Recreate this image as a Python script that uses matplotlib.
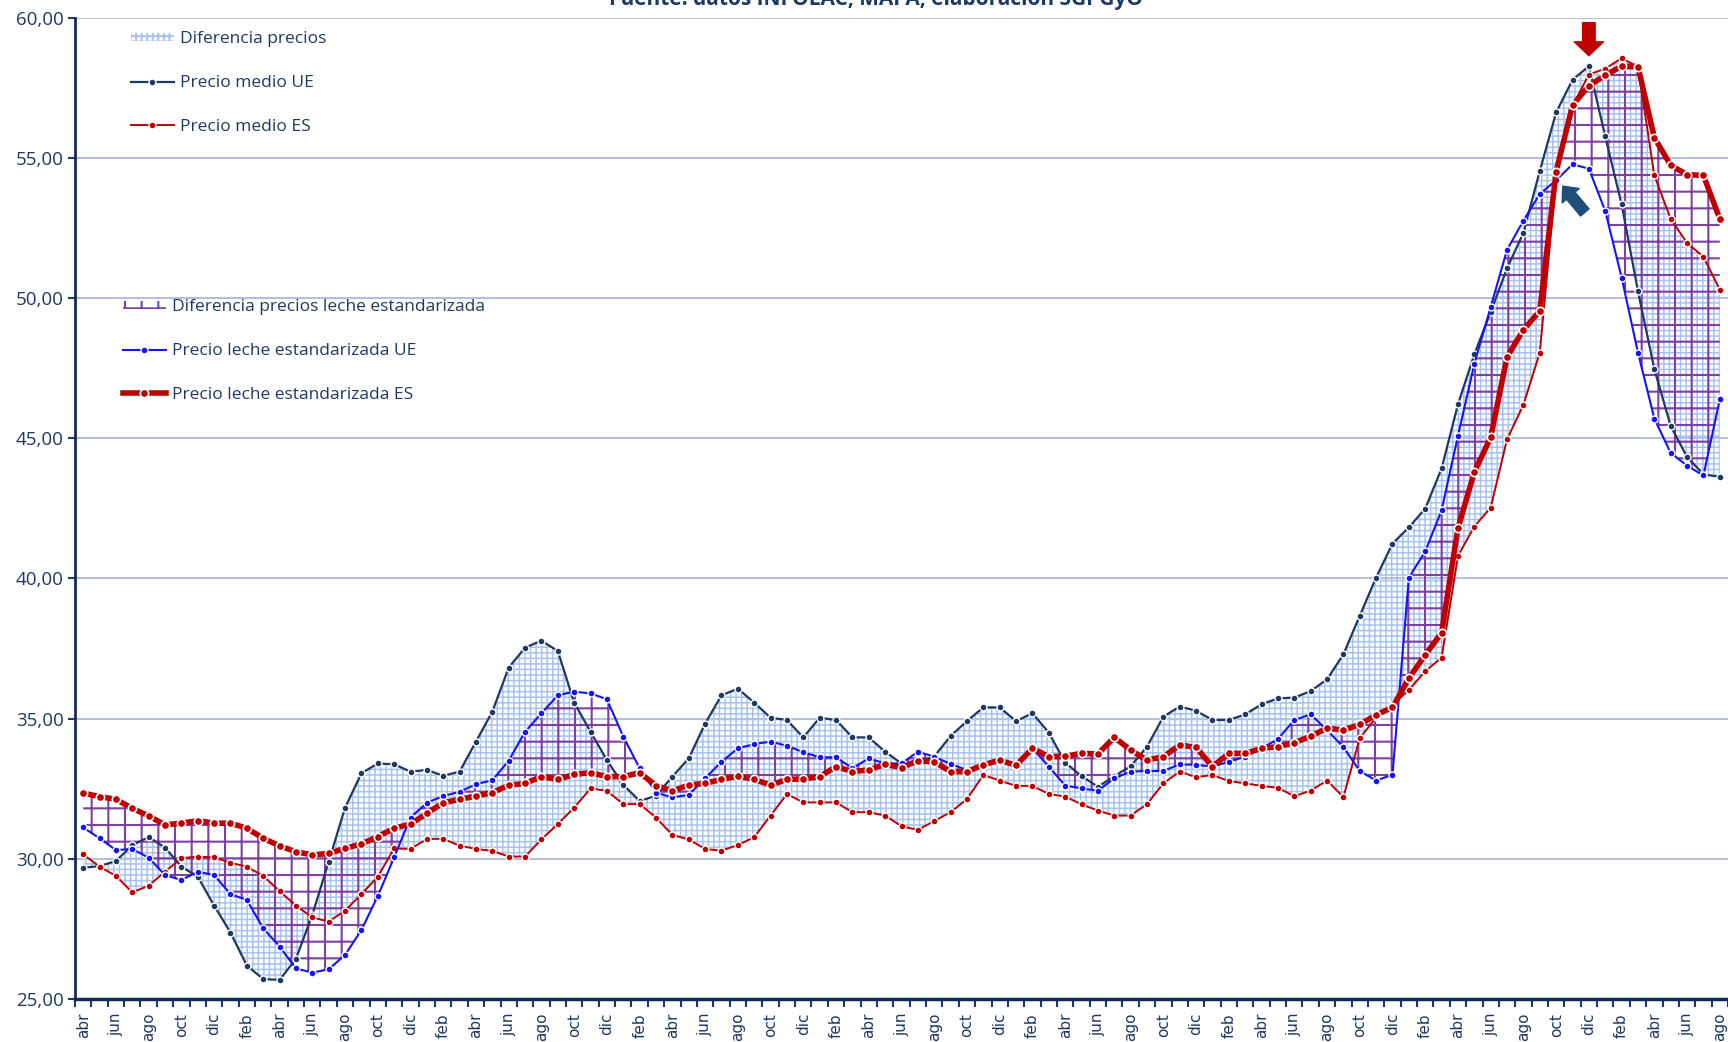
import numpy as np
import pandas as pd
import matplotlib
matplotlib.use("Agg")
import matplotlib.pyplot as plt

# Precios mensuales (cent/kg), abr 2015 - ago 2023
precio_medio_ue = [
    29.68, 29.74, 29.92, 30.48, 30.78, 30.40, 29.72, 29.36, 28.33, 27.37,
    26.19, 25.71, 25.68, 26.43, 28.00, 29.90, 31.82, 33.05, 33.40, 33.37,
    33.11, 33.17, 32.96, 33.11, 34.18, 35.25, 36.82, 37.53, 37.78, 37.41,
    35.57, 34.53, 33.52, 32.64, 32.06, 32.25, 32.93, 33.58, 34.82, 35.83,
    36.07, 35.57, 35.03, 34.95, 34.33, 35.03, 34.95, 34.33, 34.33, 33.82,
    33.40, 33.45, 33.65, 34.38, 34.91, 35.40, 35.40, 34.91, 35.19, 34.50,
    33.43, 32.95, 32.57, 32.95, 33.30, 34.00, 35.07, 35.43, 35.28, 34.95,
    34.95, 35.15, 35.51, 35.72, 35.75, 35.98, 36.40, 37.29, 38.67, 40.03,
    41.24, 41.82, 42.49, 43.92, 46.21, 47.99, 49.50, 51.06, 52.33, 54.53,
    56.62, 57.78, 58.27, 55.76, 53.34, 50.24, 47.46, 45.43, 44.33, 43.71,
    43.62,
]
precio_medio_es = [
    30.16, 29.72, 29.39, 28.80, 29.04, 29.54, 30.02, 30.08, 30.05, 29.86,
    29.72, 29.39, 28.85, 28.33, 27.91, 27.76, 28.15, 28.74, 29.36, 30.37,
    30.35, 30.71, 30.71, 30.47, 30.35, 30.28, 30.08, 30.08, 30.69, 31.24,
    31.82, 32.51, 32.42, 31.95, 31.95, 31.47, 30.85, 30.69, 30.35, 30.29,
    30.49, 30.77, 31.54, 32.31, 32.01, 32.01, 32.01, 31.66, 31.66, 31.54,
    31.16, 31.03, 31.35, 31.66, 32.13, 32.99, 32.79, 32.60, 32.60, 32.31,
    32.22, 31.94, 31.72, 31.54, 31.54, 31.95, 32.69, 33.11, 32.91, 32.99,
    32.77, 32.69, 32.60, 32.53, 32.23, 32.43, 32.79, 32.20, 34.30, 35.04,
    35.49, 36.02, 36.69, 37.17, 40.80, 41.85, 42.52, 44.96, 46.19, 48.05,
    54.30, 56.85, 57.97, 58.18, 58.55, 58.25, 54.37, 52.82, 51.96, 51.47,
    50.30,
]
precio_estand_ue = [
    31.12, 30.73, 30.31, 30.35, 30.04, 29.42, 29.24, 29.54, 29.42, 28.74,
    28.53, 27.52, 26.87, 26.09, 25.94, 26.06, 26.57, 27.46, 28.67, 30.05,
    31.47, 32.00, 32.24, 32.39, 32.66, 32.80, 33.50, 34.53, 35.19, 35.83,
    35.96, 35.90, 35.69, 34.36, 33.23, 32.36, 32.19, 32.28, 32.87, 33.46,
    33.94, 34.09, 34.18, 34.03, 33.80, 33.62, 33.62, 33.23, 33.58, 33.40,
    33.40, 33.82, 33.64, 33.38, 33.17, 33.30, 33.46, 33.38, 33.94, 33.29,
    32.61, 32.51, 32.43, 32.87, 33.11, 33.13, 33.13, 33.37, 33.35, 33.29,
    33.46, 33.64, 33.94, 34.27, 34.95, 35.15, 34.59, 33.98, 33.13, 32.79,
    33.00, 40.03, 40.96, 42.43, 45.08, 47.65, 49.68, 51.72, 52.76, 53.71,
    54.20, 54.77, 54.61, 53.10, 50.73, 48.05, 45.70, 44.47, 44.02, 43.67,
    46.39,
]
precio_estand_es = [
    32.34, 32.22, 32.12, 31.80, 31.53, 31.21, 31.27, 31.36, 31.27, 31.27,
    31.09, 30.73, 30.46, 30.25, 30.14, 30.19, 30.37, 30.53, 30.79, 31.09,
    31.24, 31.62, 32.00, 32.12, 32.24, 32.36, 32.62, 32.69, 32.93, 32.83,
    33.01, 33.07, 32.93, 32.93, 33.07, 32.61, 32.42, 32.63, 32.69, 32.83,
    32.95, 32.83, 32.63, 32.83, 32.85, 32.93, 33.29, 33.11, 33.17, 33.37,
    33.25, 33.50, 33.46, 33.11, 33.11, 33.35, 33.52, 33.33, 33.94, 33.64,
    33.66, 33.76, 33.74, 34.33, 33.88, 33.52, 33.64, 34.06, 33.97, 33.29,
    33.76, 33.76, 33.94, 34.00, 34.14, 34.37, 34.66, 34.59, 34.79, 35.13,
    35.40, 36.44, 37.27, 38.06, 41.79, 43.79, 45.03, 47.90, 48.86, 49.54,
    54.51, 56.87, 57.57, 57.94, 58.27, 58.25, 55.72, 54.73, 54.40, 54.37,
    52.82,
]

meses_es = ['ene', 'feb', 'mar', 'abr', 'may', 'jun',
            'jul', 'ago', 'sep', 'oct', 'nov', 'dic']
fechas = pd.date_range('2015-04-01', periods=len(precio_medio_ue), freq='MS')
etiquetas = [meses_es[d.month - 1] for d in fechas]

fuente = 'Fuente: datos INFOLAC, MAPA; elaboración SGPGyO'

AZUL_OSC = '#1F3864'
ROJO = '#C00000'
AZUL = '#1414F5'
TXT = '#1F3864'

x = np.arange(len(fechas))

fig = plt.figure(figsize=(17.28, 10.42), dpi=100)
ax = fig.add_axes([75 / 1728, 1 - 999 / 1042, 1653 / 1728, (999 - 17.6) / 1042])

# zonas sombreadas entre series
plt.rcParams['hatch.linewidth'] = 1.1
dif1 = ax.fill_between(x, precio_medio_ue, precio_medio_es, facecolor='none',
                       edgecolor='#A8C3F0', hatch='+++', linewidth=0,
                       label='Diferencia precios', zorder=1)
plt.rcParams['hatch.linewidth'] = 1.5
dif2 = ax.fill_between(x, precio_estand_ue, precio_estand_es, facecolor='none',
                       edgecolor='#7E3FA6', hatch='+', linewidth=0,
                       label='Diferencia precios leche estandarizada', zorder=2)

mk = dict(marker='o', markersize=5, markeredgecolor='white', markeredgewidth=1.0)
l1, = ax.plot(x, precio_medio_ue, color=AZUL_OSC, lw=1.6, label='Precio medio UE',
              zorder=4, **mk)
l2, = ax.plot(x, precio_medio_es, color=ROJO, lw=1.4, label='Precio medio ES',
              zorder=4, **mk)
l3, = ax.plot(x, precio_estand_ue, color=AZUL, lw=1.5,
              label='Precio leche estandarizada UE', zorder=5, **mk)
l4, = ax.plot(x, precio_estand_es, color=ROJO, lw=4.0, marker='o', markersize=6,
              markerfacecolor=ROJO, markeredgecolor='white', markeredgewidth=1.2,
              label='Precio leche estandarizada ES', zorder=6)

# flechas
ax.annotate('', xy=(92.0, 58.64), xytext=(92.0, 59.82), annotation_clip=False,
            arrowprops=dict(arrowstyle='simple,head_length=1.0,head_width=2.1,tail_width=0.9',
                            color=ROJO, shrinkA=0, shrinkB=0), zorder=8)
ax.annotate('', xy=(90.4, 53.99), xytext=(91.75, 53.05),
            arrowprops=dict(arrowstyle='simple,head_length=0.9,head_width=1.6,tail_width=0.8',
                            color='#1F4E79', shrinkA=0, shrinkB=0), zorder=8)

ax.set_xlim(-0.47, 100.33)
ax.set_ylim(25, 60)

ax.set_yticks(np.arange(25, 61, 5))
ax.set_yticklabels([f'{v:.2f}'.replace('.', ',') for v in np.arange(25, 61, 5)])
ax.tick_params(axis='y', length=5, width=1.5, color=AZUL_OSC, pad=3,
               labelsize=13.5, labelcolor=TXT)
for t in ax.get_yticklabels():
    t.set_family('Open Sans')

ax.set_xticks(x[::2])
ax.set_xticklabels(etiquetas[::2], rotation=90, family='DejaVu Sans')
ax.set_xticks(np.arange(-0.5, len(x), 1.0), minor=True)
ax.tick_params(axis='x', which='major', length=0, pad=10, labelsize=11,
               labelcolor=TXT)
ax.tick_params(axis='x', which='minor', length=6, width=1.5, color=AZUL_OSC)

ax.grid(axis='y', color='#A8B2D2', lw=1.2, zorder=0)
ax.set_axisbelow(True)
for s in ['top', 'right']:
    ax.spines[s].set_visible(False)
ax.spines['left'].set_color('#152A5C')
ax.spines['left'].set_linewidth(2.0)
ax.spines['bottom'].set_color('#152A5C')
ax.spines['bottom'].set_linewidth(2.5)

leg_kw = dict(frameon=False, labelcolor=TXT, borderpad=0,
              labelspacing=1.6, handlelength=2.5, handletextpad=0.35,
              prop={'family': 'Open Sans', 'size': 12.5}, handleheight=0.4)
leg1 = ax.legend(handles=[dif1, l1, l2], loc='upper left',
                 bbox_to_anchor=(0.0285, 0.995), **leg_kw)
ax.add_artist(leg1)
ax.legend(handles=[dif2, l3, l4], loc='upper left',
          bbox_to_anchor=(0.0235, 0.722), **leg_kw)

fig.text(876 / 1728, 1 - 5 / 1042, fuente, ha='center', va='baseline',
         fontsize=15, fontweight='bold', color=TXT, family='Open Sans')

fig.savefig('out.png', dpi=100)
